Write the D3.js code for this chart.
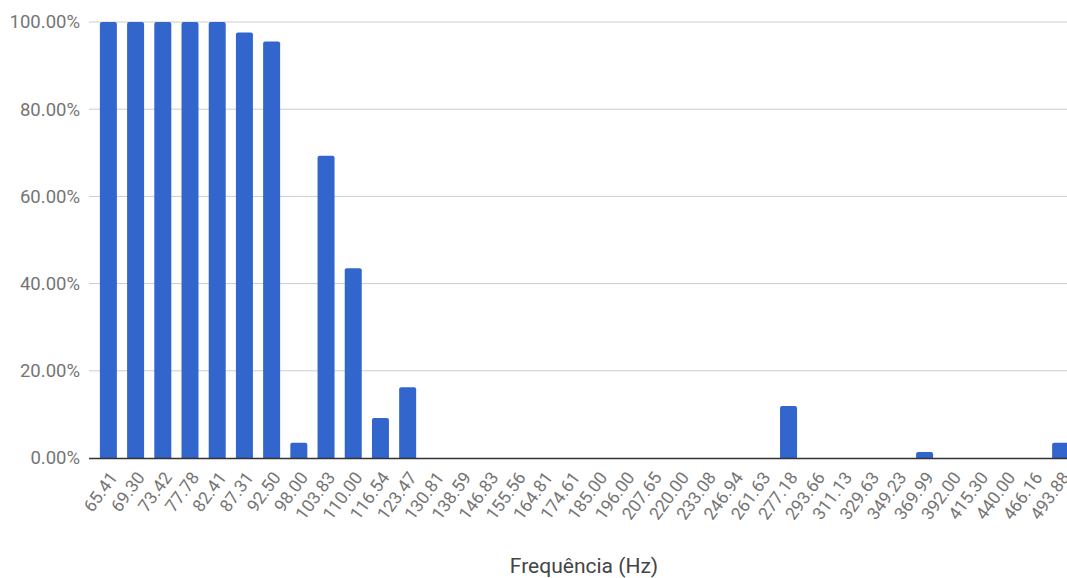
<!DOCTYPE html>
<html>
<head>
<meta charset="utf-8">
<script src="https://cdn.jsdelivr.net/npm/d3@7"></script>
<style>
  body { margin: 0; background: #fff; }
  text { font-family: Roboto, "Noto Sans", sans-serif; }
</style>
</head>
<body>
<svg id="chart" width="1067" height="578"></svg>
<script>
const frequencies = ["65.41", "69.30", "73.42", "77.78", "82.41", "87.31", "92.50", "98.00",
    "103.83", "110.00", "116.54", "123.47", "130.81", "138.59", "146.83", "155.56",
    "164.81", "174.61", "185.00", "196.00", "207.65", "220.00", "233.08", "246.94",
    "261.63", "277.18", "293.66", "311.13", "329.63", "349.23", "369.99", "392.00",
    "415.30", "440.00", "466.16", "493.88"];
const hits = [1.00, 1.00, 1.00, 1.00, 1.00, 0.976, 0.955, 0.035,
    0.693, 0.435, 0.092, 0.162, 0, 0, 0, 0,
    0, 0, 0, 0, 0, 0, 0, 0,
    0, 0.119, 0, 0, 0, 0, 0.014, 0,
    0, 0, 0, 0.035];
const yTicks = [0, 0.2, 0.4, 0.6, 0.8, 1.0];

const data = frequencies.map((f, i) => ({ freq: f, value: hits[i] }));

const svg = d3.select("#chart"),
    plotLeft = 89, plotTop = 22, plotBottom = 458;

const x = d3.scaleBand()
    .domain(frequencies)
    .range([plotLeft, 1080])
    .paddingInner(0.375)
    .paddingOuter(0.4);

const y = d3.scaleLinear().domain([0, 1]).range([plotBottom, plotTop]);

// gridlines
svg.append("g")
    .selectAll("line")
    .data(yTicks.filter(d => d > 0))
    .enter().append("line")
    .attr("x1", plotLeft)
    .attr("x2", 1067)
    .attr("y1", d => y(d))
    .attr("y2", d => y(d))
    .attr("stroke", "#cccccc")
    .attr("stroke-width", 1);

// y labels
svg.append("g")
    .selectAll("text")
    .data(yTicks)
    .enter().append("text")
    .attr("x", 80)
    .attr("y", d => y(d))
    .attr("dy", "0.35em")
    .attr("text-anchor", "end")
    .attr("fill", "#757575")
    .style("font-size", "18.5px")
    .text(d => d3.format(".2%")(d));

// bars
svg.append("g")
    .selectAll("path")
    .data(data.filter(d => d.value > 0))
    .enter().append("path")
    .attr("fill", "#3366cc")
    .attr("d", d => {
        const x0 = x(d.freq), w = x.bandwidth(), y0 = y(d.value), r = 2;
        return `M${x0},${plotBottom}V${y0 + r}Q${x0},${y0} ${x0 + r},${y0}H${x0 + w - r}Q${x0 + w},${y0} ${x0 + w},${y0 + r}V${plotBottom}Z`;
    });

// baseline
svg.append("line")
    .attr("x1", plotLeft)
    .attr("x2", 1067)
    .attr("y1", plotBottom + 0.5)
    .attr("y2", plotBottom + 0.5)
    .attr("stroke", "#333333")
    .attr("stroke-width", 1.5);

// x labels
svg.append("g")
    .selectAll("text")
    .data(frequencies)
    .enter().append("text")
    .attr("transform", d => `translate(${x(d) + x.bandwidth() / 2 + 5},${plotBottom + 16}) rotate(-54)`)
    .attr("text-anchor", "end")
    .attr("dy", "0.35em")
    .attr("fill", "#757575")
    .style("font-size", "17.5px")
    .text(d => d);

// axis title
svg.append("text")
    .attr("x", 584)
    .attr("y", 573)
    .attr("text-anchor", "middle")
    .attr("fill", "#444444")
    .style("font-size", "21px")
    .text("Frequência (Hz)");
</script>
</body>
</html>
